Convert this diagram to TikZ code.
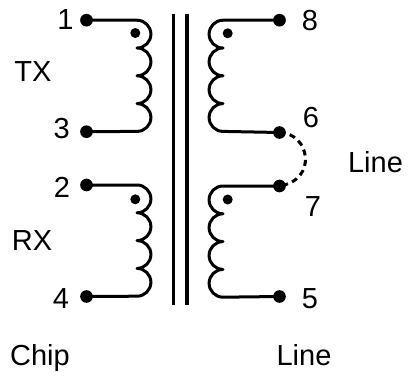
\documentclass[tikz,border=0pt]{standalone}
\usepackage{fontspec}
\setmainfont{Liberation Sans}
\begin{document}
\begin{tikzpicture}[x=1pt,y=1pt,
  wire/.style={line width=3pt,line cap=round,line join=round},
  core/.style={line width=3.3pt},
  term/.style={circle,fill=black,inner sep=0pt,minimum size=12.7pt},
  pol/.style={circle,fill=black,inner sep=0pt,minimum size=10pt},
  lbl/.style={font=\fontsize{29}{29}\selectfont,inner sep=0pt}]
\useasboundingbox (0,0) rectangle (408,376);
% core
\coordinate (c1t) at (173.3,362); \coordinate (c1b) at (173.3,71);
\coordinate (c2t) at (186.9,362); \coordinate (c2b) at (186.9,71);
\draw[core] (c1t) -- (c1b);
\draw[core] (c2t) -- (c2b);
% terminals
\node[term] (t1) at (86.5,355.8) {};
\node[term] (t3) at (86.5,244.3) {};
\node[term] (t2) at (86.5,191) {};
\node[term] (t4) at (86.5,79.5) {};
\node[term] (t8) at (279.5,355.8) {};
\node[term] (t6) at (279.5,243.5) {};
\node[term] (t7) at (279.5,190) {};
\node[term] (t5) at (279.5,79.5) {};
% windings
\draw[wire] (t1.center) -- (137,355.8)
  arc[start angle=90,end angle=-90,radius=13.9]
  arc[start angle=90,end angle=-90,radius=13.9]
  arc[start angle=90,end angle=-90,radius=13.9]
  arc[start angle=90,end angle=-90,radius=13.9] -- (t3.center);
\draw[wire] (t2.center) -- (137,191)
  arc[start angle=90,end angle=-90,radius=13.9]
  arc[start angle=90,end angle=-90,radius=13.9]
  arc[start angle=90,end angle=-90,radius=13.9]
  arc[start angle=90,end angle=-90,radius=13.9] -- (t4.center);
\draw[wire] (t8.center) -- (223,355.8)
  arc[start angle=90,end angle=270,radius=13.9]
  arc[start angle=90,end angle=270,radius=13.9]
  arc[start angle=90,end angle=270,radius=13.9]
  arc[start angle=90,end angle=270,radius=13.9] -- (t6.center);
\draw[wire] (t7.center) -- (223,190)
  arc[start angle=90,end angle=270,radius=13.9]
  arc[start angle=90,end angle=270,radius=13.9]
  arc[start angle=90,end angle=270,radius=13.9]
  arc[start angle=90,end angle=270,radius=13.9] -- (t5.center);
% polarity dots
\node[pol] (p1) at (135.3,343) {};
\node[pol] (p2) at (135.3,176.7) {};
\node[pol] (p8) at (227.7,342.7) {};
\node[pol] (p7) at (227.7,176.5) {};
% dashed link 6-7
\draw[wire,line cap=butt,dash pattern=on 6pt off 4.5pt] (t6.center)
  .. controls (310,243) and (318,196) .. (t7.center);
% labels
\node[lbl] (l1) at (65.5,356) {1};
\node[lbl] (l3) at (61.7,247.5) {3};
\node[lbl] (l2) at (62,189) {2};
\node[lbl] (l4) at (61,77) {4};
\node[lbl] (l8) at (310,355.2) {8};
\node[lbl] (l6) at (311,258) {6};
\node[lbl] (l7) at (313,169.3) {7};
\node[lbl] (l5) at (310,77.5) {5};
\node[lbl] (tx) at (33,304) {TX};
\node[lbl] (rx) at (32,135) {RX};
\node[lbl] (lineR) at (375.5,214.3) {Line};
\node[lbl,anchor=base] (chip) at (40,11) {Chip};
\node[lbl,anchor=base] (lineB) at (304,11) {Line};
\end{tikzpicture}
\end{document}
